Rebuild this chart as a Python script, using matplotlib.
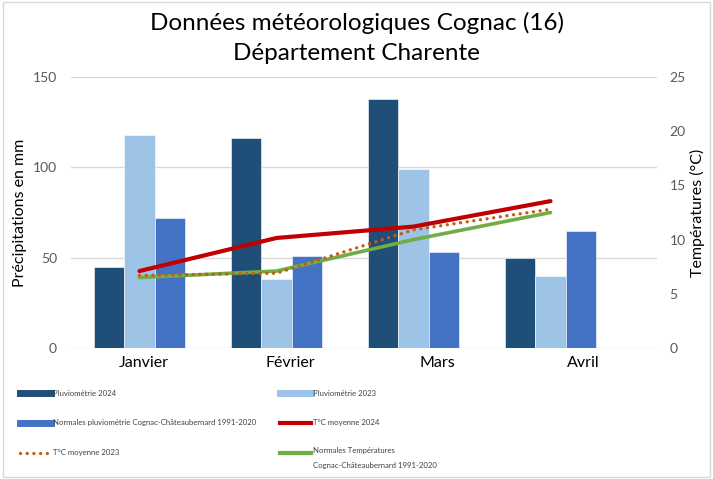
import matplotlib.pyplot as plt
from matplotlib.lines import Line2D
from matplotlib.patches import Rectangle
import numpy as np

plt.rcParams['font.family'] = ['Lato', 'DejaVu Sans']

mois = ["Janvier", "Février", "Mars", "Avril"]
pluvio_2024 = [45, 116, 138, 50]
pluvio_2023 = [118, 38, 99, 40]
pluvio_normales = [72, 51, 53, 65]
temp_2024 = [7.1, 10.15, 11.2, 13.55]
temp_2023 = [6.7, 6.9, 10.9, 12.8]
temp_normales = [6.5, 7.1, 10.0, 12.5]

C24 = "#1F4E79"
C23 = "#9DC3E6"
CNORM = "#4472C4"
RED = "#C00000"
ORANGE = "#C55A11"
GREEN = "#70AD47"
GREY = "#595959"
DOTS = (0, (0.01, 2))

fig = plt.figure(figsize=(7.13, 4.79), dpi=100)
ax = fig.add_axes([71 / 713, 1 - 348 / 479, (657 - 71) / 713, (348 - 77) / 479])
ax2 = ax.twinx()

x = np.arange(len(mois))
w = 0.219
ax.bar(x - w, pluvio_2024, w, color=C24, edgecolor="white", linewidth=0.4, zorder=2)
ax.bar(x, pluvio_2023, w, color=C23, edgecolor="white", linewidth=0.4, zorder=2)
ax.bar(x + w, pluvio_normales, w, color=CNORM, edgecolor="white", linewidth=0.4, zorder=2)

ax2.plot(x, temp_2024, color=RED, lw=3, solid_capstyle="round", zorder=3)
ax2.plot(x, temp_normales, color=GREEN, lw=2.6, solid_capstyle="round", zorder=3)
ax2.plot(x, temp_2023, color=ORANGE, lw=2.4, ls=DOTS, dash_capstyle="round", zorder=4)

xmax = 3.5 + (657 - 619) / 137
ax.set_xlim(-0.5, xmax)
ax.set_ylim(0, 150)
ax2.set_ylim(0, 25)
ax.set_yticks([0, 50, 100, 150])
ax2.set_yticks([0, 5, 10, 15, 20, 25])

span = xmax + 0.5
ax.set_xticks([-0.5 + (k + 0.5) * span / 4 for k in range(4)])
ax.set_xticklabels(mois, fontsize=11.5)

ax.grid(axis="y", color="#D9D9D9", lw=1, zorder=0)
ax.set_axisbelow(True)
for a in (ax, ax2):
    for s in a.spines.values():
        s.set_visible(False)
    a.tick_params(length=0)
ax.tick_params(axis="y", labelsize=10, labelcolor=GREY, pad=10)
ax2.tick_params(axis="y", labelsize=10, labelcolor=GREY, pad=9)
ax.tick_params(axis="x", pad=6)

ax.set_ylabel("Précipitations en mm", fontsize=11.5, labelpad=4)
ax2.set_ylabel("Températures (°C)", fontsize=11.5, labelpad=3)

fig.text(0.5, 1 - 23 / 479, "Données météorologiques Cognac (16)", ha="center", va="center", fontsize=17.5)
fig.text(0.5, 1 - 53 / 479, "Département Charente", ha="center", va="center", fontsize=17.5)

# legend built by hand, two columns
entries = [
    (20, 393, dict(color=C24, lw=5), "Pluviométrie 2024"),
    (280, 393, dict(color=C23, lw=5), "Pluviométrie 2023"),
    (20, 423, dict(color=CNORM, lw=5), "Normales pluviométrie Cognac-Châteaubernard 1991-2020"),
    (280, 423, dict(color=RED, lw=3), "T°C moyenne 2024"),
    (20, 453, dict(color=ORANGE, lw=2.4, ls=DOTS, dash_capstyle="round"), "T°C moyenne 2023"),
    (280, 453, dict(color=GREEN, lw=3), "Normales Températures\nCognac-Châteaubernard 1991-2020"),
]
for px, py, style, label in entries:
    fy = 1 - py / 479
    fig.add_artist(Line2D([px / 713, (px + 31) / 713], [fy, fy], transform=fig.transFigure, **style))
    if "\n" in label:
        fig.text((px + 33) / 713, fy + 6 / 479, label, ha="left", va="top",
                 fontsize=5.6, color="#404040", linespacing=2.3)
    else:
        fig.text((px + 33) / 713, fy, label, ha="left", va="center",
                 fontsize=5.6, color="#404040")

fig.add_artist(Rectangle((3 / 713, 2 / 479), 707 / 713, 475 / 479, transform=fig.transFigure,
                         fill=False, edgecolor="#D9D9D9", lw=1))

fig.savefig("out.png", dpi=100, facecolor="white")
